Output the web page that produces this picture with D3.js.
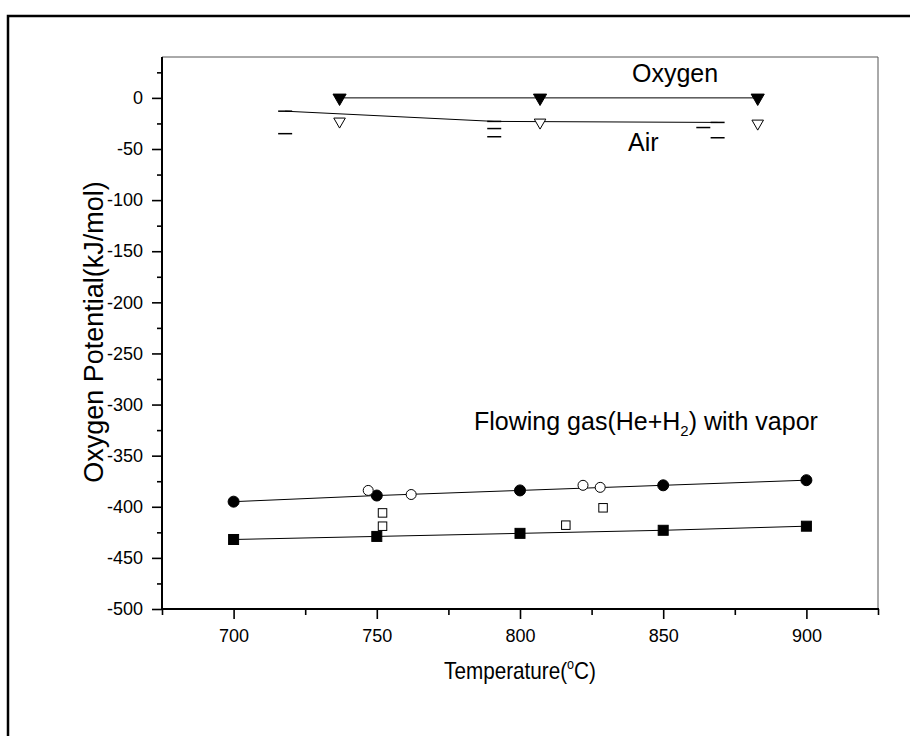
<!DOCTYPE html>
<html>
<head>
<meta charset="utf-8">
<script src="https://cdn.jsdelivr.net/npm/d3@7"></script>
<style>
  body { margin: 0; background: #fff; }
  svg { display: block; font-family: "Liberation Sans", Arial, sans-serif; }
</style>
</head>
<body>
<svg width="910" height="736"></svg>
<script>
// Oxygen / Air atmosphere (top group)
const oxygenT = [737, 807, 883];
const oxygenV = [0, 0, 0];
const airT = [737, 807, 883];
const airV = [-23, -24, -25];
const airLineT = [718, 791, 869];
const airLineV = [-13, -23, -24];
const dashT = [718, 718, 791, 791, 791, 864, 869, 869];
const dashV = [-13, -35, -23, -30, -38, -29, -24, -39];

// flowing gas (He+H2) with vapor (bottom group)
const gasT = [700, 750, 800, 850, 900];
const circleV = [-395, -389, -384, -379, -374];
const squareV = [-432, -429, -426, -423, -419];
const openCircleT = [747, 762, 822, 828];
const openCircleV = [-384, -388, -379, -381];
const openSquareT = [752, 752, 816, 829];
const openSquareV = [-406, -419, -418, -401];

const xMajor = [700, 750, 800, 850, 900];
const xMinor = [675, 725, 775, 825, 875, 925];
const yMajor = d3.range(-500, 1, 50);
const yMinor = d3.range(-475, 26, 50);

const svg = d3.select("svg");
const plotL = 162, plotR = 878, plotT = 57, plotB = 609;

const x = d3.scaleLinear().domain([675, 925]).range([plotL, plotR]);
const y = d3.scaleLinear().domain([-500, 40]).range([plotB, plotT]);

// outer frame (runs off the picture on the right and bottom)
svg.append("rect")
    .attr("x", 8).attr("y", 16)
    .attr("width", 960).attr("height", 800)
    .attr("fill", "none")
    .attr("stroke", "#000")
    .attr("stroke-width", 2.5);

// thin top / right box
svg.append("path")
    .attr("d", `M${plotL},${plotT}H${plotR}V${plotB}`)
    .attr("fill", "none")
    .attr("stroke", "#555")
    .attr("stroke-width", 1);

function styleAxis(g) {
  g.select(".domain").remove();
  g.selectAll(".tick line").attr("stroke", "#000").attr("stroke-width", 1.6);
  g.selectAll(".tick text").attr("font-size", 18).attr("fill", "#000")
      .attr("font-family", "Liberation Sans, Arial, sans-serif");
}
const plain = d => String(d);

// x axis
svg.append("g")
    .attr("transform", `translate(0,${plotB})`)
    .call(d3.axisBottom(x).tickValues(xMinor).tickSize(6).tickFormat(""))
    .call(styleAxis);
svg.append("g")
    .attr("transform", `translate(0,${plotB})`)
    .call(d3.axisBottom(x).tickValues(xMajor).tickSize(10).tickPadding(10).tickFormat(plain))
    .call(styleAxis);

// y axis
svg.append("g")
    .attr("transform", `translate(${plotL},0)`)
    .call(d3.axisLeft(y).tickValues(yMinor).tickSize(5).tickFormat(""))
    .call(styleAxis);
svg.append("g")
    .attr("transform", `translate(${plotL},0)`)
    .call(d3.axisLeft(y).tickValues(yMajor).tickSize(10).tickPadding(9).tickFormat(plain))
    .call(styleAxis);

svg.append("line")
    .attr("x1", plotL).attr("x2", plotR + 1)
    .attr("y1", plotB).attr("y2", plotB)
    .attr("stroke", "#000").attr("stroke-width", 2);
svg.append("line")
    .attr("x1", plotL).attr("x2", plotL)
    .attr("y1", plotT).attr("y2", plotB + 1)
    .attr("stroke", "#000").attr("stroke-width", 2);

// connecting lines
const line = d3.line().x(d => x(d[0])).y(d => y(d[1]));
function drawLine(ts, vs) {
  svg.append("path")
      .attr("d", line(d3.zip(ts, vs)))
      .attr("fill", "none")
      .attr("stroke", "#000")
      .attr("stroke-width", 1);
}
drawLine(oxygenT, oxygenV);
drawLine(airLineT, airLineV);
drawLine(gasT, circleV);
drawLine(gasT, squareV);

// markers
const tri = d3.symbol().type(d3.symbolTriangle);
function triangles(ts, vs, size, filled) {
  svg.append("g").selectAll("path")
    .data(d3.zip(ts, vs))
    .join("path")
      .attr("d", tri.size(size)())
      .attr("transform", d => `translate(${x(d[0])},${y(d[1])}) rotate(180)`)
      .attr("fill", filled ? "#000" : "#fff")
      .attr("stroke", "#000")
      .attr("stroke-width", 1);
}
triangles(oxygenT, oxygenV, 75, true);
triangles(airT, airV, 58, false);

svg.append("g").selectAll("line")
  .data(d3.zip(dashT, dashV))
  .join("line")
    .attr("x1", d => x(d[0]) - 7).attr("x2", d => x(d[0]) + 7)
    .attr("y1", d => y(d[1])).attr("y2", d => y(d[1]))
    .attr("stroke", "#000")
    .attr("stroke-width", 1.5);

function circles(ts, vs, r, filled) {
  svg.append("g").selectAll("circle")
    .data(d3.zip(ts, vs))
    .join("circle")
      .attr("cx", d => x(d[0])).attr("cy", d => y(d[1]))
      .attr("r", r)
      .attr("fill", filled ? "#000" : "#fff")
      .attr("stroke", "#000")
      .attr("stroke-width", 1);
}
function squares(ts, vs, s, filled) {
  svg.append("g").selectAll("rect")
    .data(d3.zip(ts, vs))
    .join("rect")
      .attr("x", d => x(d[0]) - s / 2).attr("y", d => y(d[1]) - s / 2)
      .attr("width", s).attr("height", s)
      .attr("fill", filled ? "#000" : "#fff")
      .attr("stroke", "#000")
      .attr("stroke-width", 1);
}
circles(gasT, circleV, 5.5, true);
squares(gasT, squareV, 10, true);
circles(openCircleT, openCircleV, 5, false);
squares(openSquareT, openSquareV, 8.5, false);

// labels
svg.append("text").attr("x", 632).attr("y", 82)
    .attr("font-size", 25).text("Oxygen");
svg.append("text").attr("x", 628).attr("y", 151)
    .attr("font-size", 25).text("Air");

const flow = svg.append("text").attr("x", 474).attr("y", 430).attr("font-size", 25);
flow.append("tspan").text("Flowing gas(He+H");
flow.append("tspan").attr("font-size", 15).attr("dy", 6).text("2");
flow.append("tspan").attr("dy", -6).text(") with vapor");

// x title is a bit narrower than its height suggests
const xt = svg.append("text")
    .attr("transform", `translate(${(plotL + plotR) / 2},679) scale(0.9,1)`)
    .attr("text-anchor", "middle").attr("font-size", 23);
xt.append("tspan").text("Temperature(");
xt.append("tspan").attr("font-size", 14).attr("dy", -10).text("o");
xt.append("tspan").attr("dy", 10).text("C)");

svg.append("text")
    .attr("transform", "translate(103,332) rotate(-90)")
    .attr("text-anchor", "middle")
    .attr("font-size", 27)
    .text("Oxygen Potential(kJ/mol)");
</script>
</body>
</html>
